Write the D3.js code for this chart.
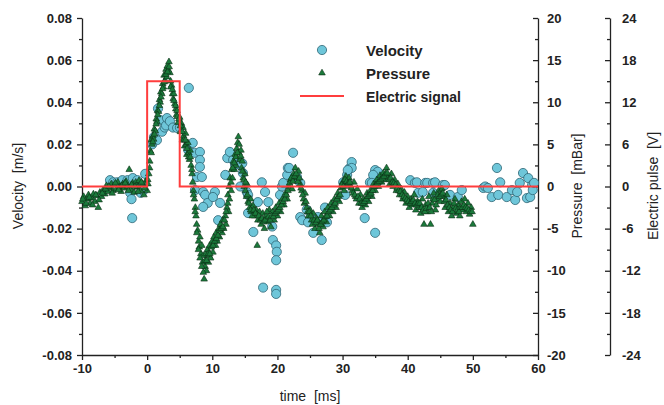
<!DOCTYPE html>
<html>
<head>
<meta charset="utf-8">
<script src="https://cdn.jsdelivr.net/npm/d3@7"></script>
<style>
  body { margin: 0; background: #fff; }
  svg { font-family: "Liberation Sans", Arial, sans-serif; }
  .axis text { font-size: 13px; font-weight: bold; fill: #222; }
  .axis path, .axis line { stroke: #222; stroke-width: 1.3; }
</style>
</head>
<body>
<div id="chart"></div>
<script>
// Data
const timeTicks = [-10, 0, 10, 20, 30, 40, 50, 60];
const velocityTicks = [-0.08, -0.06, -0.04, -0.02, 0, 0.02, 0.04, 0.06, 0.08];
const pressureTicks = [-20, -15, -10, -5, 0, 5, 10, 15, 20];
const pulseTicks = [-24, -18, -12, -6, 0, 6, 12, 18, 24];

// velocity [ms, m/s]
const velocity = [
  [-5.7, 0.003], [-5.2, 0.002], [-4.6, 0.002], [-4.0, 0.001], [-3.8, 0.003], [-3.0, 0.003],
  [-2.6, -0.003], [-2.4, -0.006], [-2.3, -0.015], [-2.2, 0.004], [-1.5, 0.003], [-1.2, 0.001],
  [-1.0, -0.003], [-0.6, -0.002], [-0.3, 0.006],
  [0.77, 0.020], [1.05, 0.0235], [1.5, 0.022], [1.67, 0.037], [1.97, 0.0316], [2.28, 0.026],
  [2.7, 0.028], [2.9, 0.029], [3.05, 0.0325], [3.5, 0.031], [3.97, 0.028], [4.6, 0.0278],
  [5.04, 0.028], [6.4, 0.0468],
  [6.3, 0.0173], [7.0, 0.0207], [7.3, 0.016], [8.1, 0.0164], [8.1, 0.0126], [8.1, 0.0093],
  [7.65, 0.0045], [8.4, 0.0045], [7.35, -0.0017], [8.6, -0.0026], [8.9, -0.004], [9.3, -0.0078],
  [8.6, -0.0097], [10.4, -0.0026], [10.1, -0.005], [11.2, -0.0078], [10.9, -0.016],
  [12.0, 0.0055], [12.3, 0.0135], [12.7, 0.0164], [13.2, 0.0126], [13.5, 0.0102], [14.3, 0.0102],
  [14.6, 0.011], [14.7, 0.0064], [14.3, 0.0], [15.3, -0.0026], [15.5, -0.004], [15.5, -0.0126],
  [16.3, -0.0216], [17.0, -0.0074], [17.6, 0.002], [18.1, -0.0026], [18.6, -0.0074], [19.2, -0.019],
  [19.3, -0.0254], [19.8, -0.028], [19.9, -0.031], [19.8, -0.035], [17.8, -0.048], [19.8, -0.0491],
  [19.8, -0.051], [20.4, -0.004], [20.7, 0.0], [20.9, 0.0017], [21.5, 0.0055], [21.6, 0.0088],
  [22.4, 0.016], [21.8, 0.0088], [23.0, 0.0045], [23.5, 0.0017], [23.5, -0.0145], [23.8, -0.016],
  [24.5, -0.011], [24.7, -0.017], [25.5, -0.022], [26.8, -0.0254], [27.3, -0.010], [27.6, -0.017],
  [26.2, -0.0145], [30.1, 0.002], [30.7, 0.0055], [31.1, 0.0088], [31.4, 0.0116], [31.4, 0.0088],
  [30.8, 0.0078], [30.7, 0.0017], [30.4, -0.004], [33.4, -0.015], [34.2, 0.002], [35.0, 0.0078],
  [35.4, 0.007], [35.3, 0.002], [34.7, 0.0055], [34.5, 0.0017], [35.0, -0.022],
  [40.4, 0.003], [41.1, 0.0017], [41.4, 0.002], [41.6, -0.003], [42.3, -0.0026], [42.7, 0.0017],
  [43.0, 0.0017], [43.9, 0.0017], [44.2, 0.002], [43.9, -0.003], [45.4, 0.0007], [45.7, 0.0007],
  [46.5, -0.004], [47.7, -0.005], [48.3, -0.0017], [51.6, -0.0007], [51.9, 0.0], [52.3, -0.0007],
  [52.9, -0.005], [53.7, 0.0088], [54.2, 0.002], [53.9, -0.004], [55.2, -0.005], [56.0, -0.0017],
  [56.5, -0.0064], [56.8, -0.0026], [57.2, 0.0017], [57.7, 0.0064], [58.5, 0.004], [59.1, 0.0007],
  [58.3, -0.0055], [58.8, -0.005], [59.2, -0.0017], [59.4, 0.0017]
];

// pressure [ms, mBar]
const pressure = [
  [-10, -1.8], [-9.75, -1.2], [-9.5, -2.3], [-9.25, -1.5], [-9, -1.0], [-8.75, -2.0], [-8.5, -1.4], [-8.25, -0.9],
  [-8, -1.8], [-7.75, -1.1], [-7.5, -2.5], [-7.25, -0.7], [-7, -1.2], [-6.75, -0.4], [-6.5, -0.9], [-6.25, 0.1],
  [-6, -0.6], [-5.75, -0.2], [-5.5, 0.3], [-5.25, -0.5], [-5, 0.2], [-4.75, -0.3], [-4.5, 0.5], [-4.25, -0.1],
  [-4, -0.6], [-3.75, 0.3], [-3.5, -0.2], [-3.25, 0.6], [-3, 0.0], [-2.75, 2.0], [-2.5, -0.4], [-2.25, 0.4],
  [-2, -0.7], [-1.75, 0.5], [-1.5, -0.1], [-1.25, 0.7], [-1, -0.5], [-0.75, 0.3], [-0.5, -1.0], [-0.25, 0.6],
  [0, -0.5], [0.1, 0.8], [0.25, 1.5], [0.4, 3.0], [0.5, 4.2], [0.6, 5.5], [0.75, 5.0], [0.9, 6.0],
  [1.0, 5.6], [1.1, 6.8], [1.25, 6.6], [1.4, 8.0], [1.5, 7.7], [1.6, 9.0], [1.75, 8.9], [1.9, 10.3],
  [2.0, 10.0], [2.1, 11.2], [2.25, 11.0], [2.4, 12.2], [2.5, 11.8], [2.6, 13.2], [2.75, 12.6], [2.9, 13.9],
  [3.0, 13.0], [3.1, 14.3], [3.25, 13.8], [3.35, 14.8], [3.5, 13.5], [3.6, 12.5], [3.75, 12.0], [3.9, 11.0],
  [4.0, 10.4], [4.1, 11.0], [4.25, 9.8], [4.4, 9.2], [4.5, 8.5], [4.6, 9.0], [4.75, 7.6], [5.0, 8.2],
  [5.1, 6.5], [5.25, 7.5], [5.4, 5.5], [5.5, 7.0], [5.6, 6.0], [5.75, 4.8], [5.9, 6.3], [6.0, 5.0],
  [6.1, 3.8], [6.25, 5.2], [6.4, 4.0], [6.5, 3.2], [6.6, 4.3], [6.75, 2.5], [6.9, 1.5], [7.0, 0.5],
  [7.1, -0.5], [7.25, -1.5], [7.4, -2.5], [7.5, -3.5], [7.6, -4.5], [7.75, -5.2], [7.9, -6.5], [8.0, -7.2],
  [8.1, -6.0], [8.25, -8.0], [8.4, -7.0], [8.5, -9.0], [8.6, -8.2], [8.75, -11.0], [8.9, -9.5], [9.0, -8.0],
  [9.1, -10.0], [9.25, -7.5], [9.4, -9.0], [9.5, -8.2], [9.6, -7.0], [9.75, -8.5], [10.0, -6.5], [10.1, -7.8],
  [10.25, -6.0], [10.5, -7.0], [10.6, -5.5], [10.75, -6.5], [11.0, -5.0], [11.1, -6.0], [11.25, -4.5], [11.5, -5.5],
  [11.6, -4.0], [11.75, -5.0], [12.0, -3.5], [12.1, -4.5], [12.25, -2.5], [12.4, -1.0], [12.5, -3.0], [12.6, 0.0],
  [12.75, 1.0], [12.9, -0.5], [13.0, 2.0], [13.1, 1.0], [13.25, 3.0], [13.4, 2.0], [13.5, 3.8], [13.6, 2.5],
  [13.75, 4.5], [13.9, 5.2], [14.0, 5.9], [14.1, 4.0], [14.25, 3.2], [14.4, 4.3], [14.5, 2.2], [14.6, 3.0],
  [14.75, 1.0], [14.9, 0.0], [15.0, 1.5], [15.1, -0.5], [15.25, -1.2], [15.4, 0.2], [15.5, -1.8], [15.75, -2.5],
  [15.9, -1.5], [16.0, -3.0], [16.25, -2.3], [16.5, -3.5], [16.75, -2.8], [16.9, -7.0], [17.0, -4.0], [17.25, -3.0],
  [17.5, -4.5], [17.75, -3.2], [18.0, -5.0], [18.25, -3.5], [18.5, -4.2], [18.75, -2.8], [19.0, -4.8], [19.25, -3.0],
  [19.5, -4.0], [19.75, -2.5], [20.0, -3.5], [20.25, -2.0], [20.5, -3.0], [20.75, -1.5], [21.0, -2.2], [21.25, -0.8],
  [21.5, -1.5], [21.75, 0.0], [22.0, 0.8], [22.25, -0.3], [22.5, 1.5], [22.75, 2.2], [23.0, 1.0], [23.25, 1.8],
  [23.5, 0.3], [23.75, -0.5], [24.0, -1.5], [24.25, -0.8], [24.5, -2.5], [24.75, -3.5], [25.0, -2.8], [25.25, -4.0],
  [25.5, -3.2], [25.75, -5.0], [26.0, -3.8], [26.25, -4.5], [26.5, -5.5], [26.75, -3.5], [27.0, -4.8], [27.25, -3.0],
  [27.5, -4.2], [27.75, -2.5], [28.0, -3.5], [28.25, -2.0], [28.5, -3.0], [28.75, -1.5], [29.0, -2.5], [29.25, -0.8],
  [29.5, -1.8], [29.75, -0.2], [30.0, 0.5], [30.25, -0.5], [30.5, 1.2], [30.75, 0.3], [31.0, 1.0], [31.25, 0.0],
  [31.5, -0.5], [31.75, 0.5], [32.0, -1.2], [32.25, -0.3], [32.5, -2.0], [32.75, -1.0], [33.0, -2.5], [33.25, -1.5],
  [33.5, -2.2], [33.75, -0.8], [34.0, -1.8], [34.25, -0.5], [34.5, -1.2], [34.75, 0.3], [35.0, -0.5], [35.25, 0.8],
  [35.5, 0.0], [35.75, 1.3], [36.0, 0.5], [36.25, 1.6], [36.5, 0.8], [36.75, 2.2], [37.0, 1.2], [37.25, 0.3],
  [37.5, 1.5], [37.75, 0.0], [38.0, 0.8], [38.25, -0.5], [38.5, 0.3], [38.75, -1.0], [39.0, -0.3], [39.25, -1.5],
  [39.5, -0.7], [39.75, -2.0], [40.0, -1.2], [40.25, -2.5], [40.5, -1.5], [40.75, -2.2], [41.0, -1.0], [41.25, -2.8],
  [41.5, -1.8], [41.75, -2.5], [42.0, -3.2], [42.25, -1.5], [42.5, -4.5], [42.75, -2.2], [43.0, -3.0], [43.25, -1.2],
  [43.5, -4.5], [43.75, -2.0], [44.0, -0.8], [44.25, -2.8], [44.5, -1.5], [44.75, -0.5], [45.0, -1.8], [45.25, -0.3],
  [45.5, -1.2], [45.75, -2.5], [46.0, -1.0], [46.25, -3.0], [46.5, -2.0], [46.75, -3.5], [47.0, -2.5], [47.25, -1.5],
  [47.5, -3.2], [47.75, -2.2], [48.0, -3.5], [48.25, -1.8], [48.5, -2.8], [48.75, -1.5], [49.0, -3.0], [49.25, -2.0],
  [49.5, -3.3], [49.75, -2.5], [50.0, -4.5],
  // in-between samples
  [-9.875, -1.5], [-9.375, -2.0], [-8.875, -1.3], [-8.375, -2.2], [-7.875, -1.0], [-7.375, -1.6], [-6.875, -0.8], [-6.375, -0.3],
  [-5.875, 0.0], [-5.375, -0.8], [-4.875, 0.4], [-4.375, -0.4], [-3.875, 0.1], [-3.375, 0.4], [-2.875, -0.5], [-2.375, 0.2],
  [-1.875, 0.0], [-1.375, -0.6], [-0.875, 0.5], [-0.375, -0.2], [0.125, 0.3], [0.375, 2.2], [0.625, 4.0], [0.875, 5.3],
  [1.125, 6.2], [1.375, 7.4], [1.625, 8.5], [1.875, 9.6], [2.125, 10.6], [2.375, 11.6], [2.625, 12.4], [2.875, 13.3],
  [3.125, 13.6], [3.375, 14.2], [3.625, 11.8], [3.875, 11.5], [4.125, 10.2], [4.375, 9.6], [4.625, 8.3], [4.875, 8.0],
  [5.125, 7.2], [5.375, 6.5], [5.625, 5.5], [5.875, 5.5], [6.125, 4.5], [6.375, 3.5], [6.625, 3.5], [6.875, 2.0],
  [7.125, -1.0], [7.375, -3.0], [7.625, -5.5], [7.875, -7.5], [8.125, -8.5], [8.375, -9.5], [8.625, -10.2], [8.875, -8.8],
  [9.125, -8.8], [9.375, -8.0], [9.625, -8.0], [9.875, -7.2], [10.125, -7.0], [10.375, -6.5], [10.625, -6.2], [10.875, -5.8],
  [11.125, -5.2], [11.375, -5.0], [11.625, -4.8], [11.875, -4.0], [12.125, -3.0], [12.375, -2.0], [12.625, -1.5], [12.875, 0.5],
  [13.125, 2.2], [13.375, 2.8], [13.625, 3.5], [13.875, 4.0], [14.125, 5.0], [14.375, 3.6], [14.625, 1.8], [14.875, 0.8],
  [15.125, 0.5], [15.375, -1.0], [15.625, -2.0], [15.875, -2.8], [16.125, -3.5], [16.375, -2.8], [16.625, -3.2], [17.125, -3.5],
  [17.375, -4.0], [17.625, -3.8], [17.875, -4.2], [18.125, -4.0], [18.375, -3.0], [18.625, -3.6], [18.875, -4.0], [19.125, -3.5],
  [19.375, -3.6], [19.625, -3.2], [19.875, -3.0], [20.125, -2.8], [20.375, -2.5], [20.625, -2.2], [20.875, -1.8], [21.125, -1.5],
  [21.375, -1.0], [21.625, -0.5], [21.875, 0.4], [22.125, 1.0], [22.375, 0.6], [22.625, 1.2], [22.875, 1.5], [23.125, 0.6],
  [23.375, 1.0], [23.625, -0.2], [23.875, -1.0], [24.125, -2.0], [24.375, -1.8], [24.625, -3.0], [24.875, -3.0], [25.125, -3.5],
  [25.375, -4.5], [25.625, -4.0], [25.875, -4.3], [26.125, -4.0], [26.375, -5.0], [26.625, -4.5], [26.875, -4.2], [27.125, -4.0],
  [27.375, -3.6], [27.625, -3.5], [27.875, -3.0], [28.125, -2.8], [28.375, -2.5], [28.625, -2.2], [28.875, -2.0], [29.125, -1.5],
  [29.375, -1.2], [29.625, -1.0], [29.875, 0.2], [30.125, 0.0], [30.375, 0.8], [30.625, 0.6], [30.875, 0.4], [31.125, 0.5],
  [31.375, -0.2], [31.625, -0.8], [31.875, -1.0], [32.125, -1.5], [32.375, -1.2], [32.625, -1.5], [32.875, -2.0], [33.125, -2.0],
  [33.375, -1.8], [33.625, -1.5], [33.875, -1.2], [34.125, -1.0], [34.375, -0.8], [34.625, -0.5], [34.875, 0.0], [35.125, 0.2],
  [35.375, 0.4], [35.625, 0.6], [35.875, 0.8], [36.125, 1.0], [36.375, 1.2], [36.625, 1.5], [36.875, 1.6], [37.125, 0.8],
  [37.375, 1.0], [37.625, 0.5], [37.875, 0.4], [38.125, 0.2], [38.375, -0.2], [38.625, -0.5], [38.875, -0.6], [39.125, -1.0],
  [39.375, -1.2], [39.625, -1.4], [39.875, -1.6], [40.125, -1.8], [40.375, -2.0], [40.625, -1.8], [40.875, -1.6], [41.125, -2.0],
  [41.375, -2.2], [41.625, -2.0], [41.875, -2.0], [42.125, -2.5], [42.375, -2.8], [42.625, -3.0], [42.875, -2.6], [43.125, -2.0],
  [43.375, -2.5], [43.625, -3.0], [43.875, -1.5], [44.125, -1.6], [44.375, -2.2], [44.625, -1.0], [44.875, -1.2], [45.125, -1.0],
  [45.375, -0.8], [45.625, -1.8], [45.875, -1.6], [46.125, -2.2], [46.375, -2.5], [46.625, -2.8], [46.875, -3.0], [47.125, -2.0],
  [47.375, -2.6], [47.625, -2.8], [47.875, -3.0], [48.125, -2.5], [48.375, -2.5], [48.625, -2.2], [48.875, -2.5], [49.125, -2.6],
  [49.375, -2.8], [49.625, -3.0], [49.875, -3.0]
];

// electric signal [ms, V]
const signalTime = [-10, 0, 0, 5, 5, 60];
const signalVolt = [0, 0, 15, 15, 0, 0];

const legendItems = ["Velocity", "Pressure", "Electric signal"];

function createChart() {
  const W = 664, H = 405;
  const left = 82, right = 538, top = 18, bottom = 355;
  const pulseAxisX = 610;

  const svg = d3.select("#chart").append("svg")
    .attr("width", W)
    .attr("height", H);

  // scales
  const x = d3.scaleLinear().domain([-10, 60]).range([left, right]);
  const yV = d3.scaleLinear().domain([-0.08, 0.08]).range([bottom, top]);
  const yP = d3.scaleLinear().domain([-20, 20]).range([bottom, top]);
  const yE = d3.scaleLinear().domain([-24, 24]).range([bottom, top]);

  // minor ticks first (no labels)
  const minor = (g) => g.selectAll("text").remove();
  svg.append("g").attr("class", "axis")
    .attr("transform", `translate(0,${bottom})`)
    .call(d3.axisBottom(x).tickValues(d3.range(-5, 60, 10)).tickSize(3).tickSizeOuter(0))
    .call(minor).select(".domain").remove();
  svg.append("g").attr("class", "axis")
    .attr("transform", `translate(${left},0)`)
    .call(d3.axisLeft(yV).tickValues(d3.range(-0.07, 0.08, 0.02)).tickSize(3).tickSizeOuter(0))
    .call(minor).select(".domain").remove();
  svg.append("g").attr("class", "axis")
    .attr("transform", `translate(${right},0)`)
    .call(d3.axisLeft(yP).tickValues(d3.range(-17.5, 20, 5)).tickSize(3).tickSizeOuter(0))
    .call(minor).select(".domain").remove();
  svg.append("g").attr("class", "axis")
    .attr("transform", `translate(${pulseAxisX},0)`)
    .call(d3.axisLeft(yE).tickValues(d3.range(-21, 24, 6)).tickSize(3).tickSizeOuter(0))
    .call(minor).select(".domain").remove();

  // major axes (plain hyphen minus, as in the original)
  svg.append("g").attr("class", "axis")
    .attr("transform", `translate(0,${bottom})`)
    .call(d3.axisBottom(x).tickValues(timeTicks).tickSize(5).tickSizeOuter(0).tickPadding(4)
      .tickFormat(d => String(d)));

  svg.append("g").attr("class", "axis")
    .attr("transform", `translate(${left},0)`)
    .call(d3.axisLeft(yV).tickValues(velocityTicks).tickSize(5).tickSizeOuter(0).tickPadding(5)
      .tickFormat(d => d.toFixed(2)));

  const pAxis = svg.append("g").attr("class", "axis")
    .attr("transform", `translate(${right},0)`)
    .call(d3.axisLeft(yP).tickValues(pressureTicks).tickSize(5).tickSizeOuter(0)
      .tickFormat(d => String(d)));
  pAxis.selectAll("text").attr("text-anchor", "start").attr("x", 9);

  const eAxis = svg.append("g").attr("class", "axis")
    .attr("transform", `translate(${pulseAxisX},0)`)
    .call(d3.axisLeft(yE).tickValues(pulseTicks).tickSize(5).tickSizeOuter(0)
      .tickFormat(d => String(d)));
  eAxis.selectAll("text").attr("text-anchor", "start").attr("x", 12);

  // axis titles
  svg.append("text")
    .attr("x", 310).attr("y", 401)
    .attr("text-anchor", "middle")
    .style("font-size", "14px").attr("fill", "#222")
    .attr("xml:space", "preserve")
    .text("time  [ms]");

  const yTitle = (tx, ty, label) => svg.append("text")
    .attr("transform", `translate(${tx},${ty}) rotate(-90)`)
    .attr("text-anchor", "middle")
    .style("font-size", "14px").attr("fill", "#222")
    .attr("xml:space", "preserve")
    .text(label);
  yTitle(23, 186, "Velocity  [m/s]");
  yTitle(582, 186, "Pressure  [mBar]");
  yTitle(658, 186, "Electric pulse  [V]");

  // velocity circles
  svg.append("g")
    .selectAll("circle")
    .data(velocity)
    .enter().append("circle")
    .attr("cx", d => x(d[0]))
    .attr("cy", d => yV(d[1]))
    .attr("r", 4.6)
    .attr("fill", "#6ec6d9")
    .attr("stroke", "#2f6675")
    .attr("stroke-width", 0.8);

  // pressure triangles (drawn over the circles)
  const tri = d3.symbol().type(d3.symbolTriangle).size(19);
  svg.append("g")
    .selectAll("path")
    .data(pressure)
    .enter().append("path")
    .attr("d", tri)
    .attr("transform", d => `translate(${x(d[0])},${yP(d[1])})`)
    .attr("fill", "#1b7a3b")
    .attr("stroke", "#0a2e14")
    .attr("stroke-width", 0.6);

  // electric signal
  const signal = signalTime.map((t, i) => [t, signalVolt[i]]);
  svg.append("path")
    .datum(signal)
    .attr("fill", "none")
    .attr("stroke", "#ff3d3d")
    .attr("stroke-width", 2)
    .attr("d", d3.line().x(d => x(d[0])).y(d => yE(d[1])));

  // legend
  const legend = svg.append("g").attr("transform", "translate(300,50)");
  legend.append("circle")
    .attr("cx", 22).attr("cy", 0).attr("r", 4.6)
    .attr("fill", "#6ec6d9").attr("stroke", "#2f6675").attr("stroke-width", 0.8);
  legend.append("path")
    .attr("d", tri)
    .attr("transform", "translate(22,23)")
    .attr("fill", "#1b7a3b").attr("stroke", "#0a2e14").attr("stroke-width", 0.6);
  legend.append("line")
    .attr("x1", 0).attr("x2", 44).attr("y1", 46).attr("y2", 46)
    .attr("stroke", "#ff3d3d").attr("stroke-width", 2);
  legend.selectAll("text.lab")
    .data(legendItems)
    .enter().append("text")
    .attr("class", "lab")
    .attr("x", 66)
    .attr("y", (d, i) => i * 23 + 6)
    .style("font-size", (d, i) => i < 2 ? "15px" : "14px")
    .style("font-weight", "bold")
    .attr("fill", "#222")
    .text(d => d);
}

document.addEventListener("DOMContentLoaded", createChart);
</script>
</body>
</html>
